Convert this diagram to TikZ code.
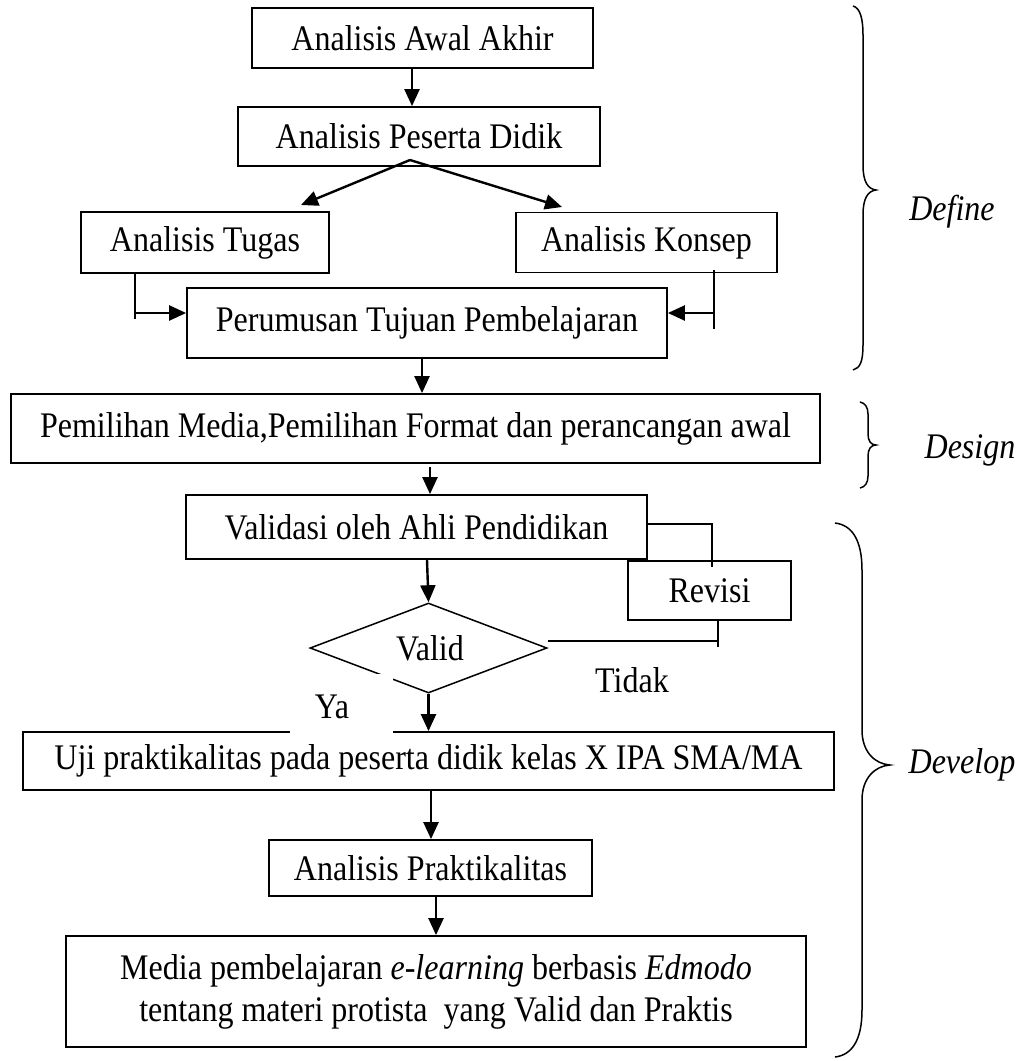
\documentclass[tikz,border=0pt]{standalone}
\usepackage{fontspec}
\setmainfont[FakeStretch=0.89]{Liberation Serif}
\usetikzlibrary{arrows.meta,shapes.geometric}
\begin{document}
\begin{tikzpicture}[x=1pt,y=-1pt,
  every node/.style={font=\fontsize{36}{41}\selectfont, inner sep=0pt},
  box/.style={draw, line width=1.8pt, align=center},
  arr/.style={line width=2.4pt, -{Triangle[length=17pt,width=15pt]}},
  ln/.style={line width=1.8pt},
  brc/.style={line width=1.5pt}]
\useasboundingbox (0,0) rectangle (1032,1061);
% boxes
\node[box, minimum width=341pt, minimum height=60pt] (b1) at (422.5,38) {Analisis Awal Akhir};
\node[box, minimum width=362pt, minimum height=59pt] (b2) at (419,136.5) {Analisis Peserta Didik};
\node[box, minimum width=248pt, minimum height=61pt] (tug) at (205,242.5) {Analisis Tugas};
\node[box, minimum width=261pt, minimum height=60pt] (kon) at (646.5,242.5) {Analisis Konsep};
\node[box, minimum width=480pt, minimum height=70pt] (per) at (427,323) {Perumusan Tujuan Pembelajaran};
\node[box, minimum width=809pt, minimum height=69pt] (pem) at (415.5,428.5) {Pemilihan Media,Pemilihan Format dan perancangan awal};
\node[box, minimum width=461pt, minimum height=64pt] (val) at (416.5,527) {Validasi oleh Ahli Pendidikan};
\node[box, minimum width=163pt, minimum height=59pt] (rev) at (709.5,590.5) {Revisi};
\node[draw, diamond, line width=1.5pt, minimum width=237pt, minimum height=90pt, aspect=2.6] (dia) at (428.5,648) {};
\node (validtxt) at (430,648) {Valid};
\node[box, minimum width=811pt, minimum height=58pt] (uji) at (428.5,761) {Uji praktikalitas pada peserta didik kelas X IPA SMA/MA};
\node[box, minimum width=323pt, minimum height=56pt] (prak) at (430.5,868) {Analisis Praktikalitas};
\node[box, minimum width=740pt, minimum height=111pt] (med) at (436,991.5) {Media pembelajaran \textit{e-learning} berbasis \textit{Edmodo}\\[1pt] tentang materi protista\ \ yang Valid dan Praktis};
% connectors
\draw[arr] (b1.south -| 412,0) -- (b2.north -| 412,0);
\coordinate (apex) at (410,160);
\coordinate (tl) at (301,205);
\coordinate (tr) at (562,207);
\draw[arr] (apex) -- (tl);
\draw[arr] (apex) -- (tr);
\draw[ln] (tug.south -| 135,0) -- (135,319);
\draw[arr] (135,313) -- (per.west |- 0,313);
\draw[ln] (714,270) -- (714,329);
\draw[arr] (714,313) -- (per.east |- 0,313);
\draw[arr] (per.south -| 422,0) -- (pem.north -| 422,0);
\draw[arr] (430,467) -- (val.north -| 430,0);
\draw[arr] (val.south -| 427,0) -- (dia.north);
\draw[ln] (val.east |- 0,524) -- (712,524) -- (712,567);
\draw[ln] (rev.south -| 718,0) -- (718,647);
\draw[ln] ([yshift=7pt]dia.east) -- (718,641);
\draw[arr] (dia.south) -- (uji.north -| dia.south);
\draw[arr] (uji.south -| 431,0) -- (prak.north -| 431,0);
\draw[arr] (prak.south -| 436,0) -- (med.north -| 436,0);
% white patch behind Ya
\fill[white] (290,674) rectangle (393,736);
\node (ya) at (332,707) {Ya};
\node (tidak) at (632,680) {Tidak};
% braces
\draw[brc] (853,6) .. controls (860,8) and (863,18) .. (863,35) -- (863,165) .. controls (863,182) and (868,189) .. (876,190) .. controls (868,191) and (863,198) .. (863,215) -- (863,345) .. controls (863,362) and (860,368) .. (853,370);
\draw[brc] (860,402) .. controls (865,403) and (868,407) .. (868,414) -- (868,434) .. controls (868,441) and (871,445) .. (876,445) .. controls (871,445) and (868,449) .. (868,456) -- (868,476) .. controls (868,483) and (865,487) .. (860,488);
\draw[brc] (835,523) .. controls (852,525) and (862,540) .. (862,570) -- (862,730) .. controls (862,752) and (875,764) .. (890,765) .. controls (875,766) and (862,778) .. (862,800) -- (862,1010) .. controls (862,1040) and (852,1055) .. (835,1057);
\node (define) at (952,212) {\textit{Define}};
\node (design) at (970,450) {\textit{Design}};
\node (develop) at (962,765) {\textit{Develop}};
\end{tikzpicture}
\end{document}
